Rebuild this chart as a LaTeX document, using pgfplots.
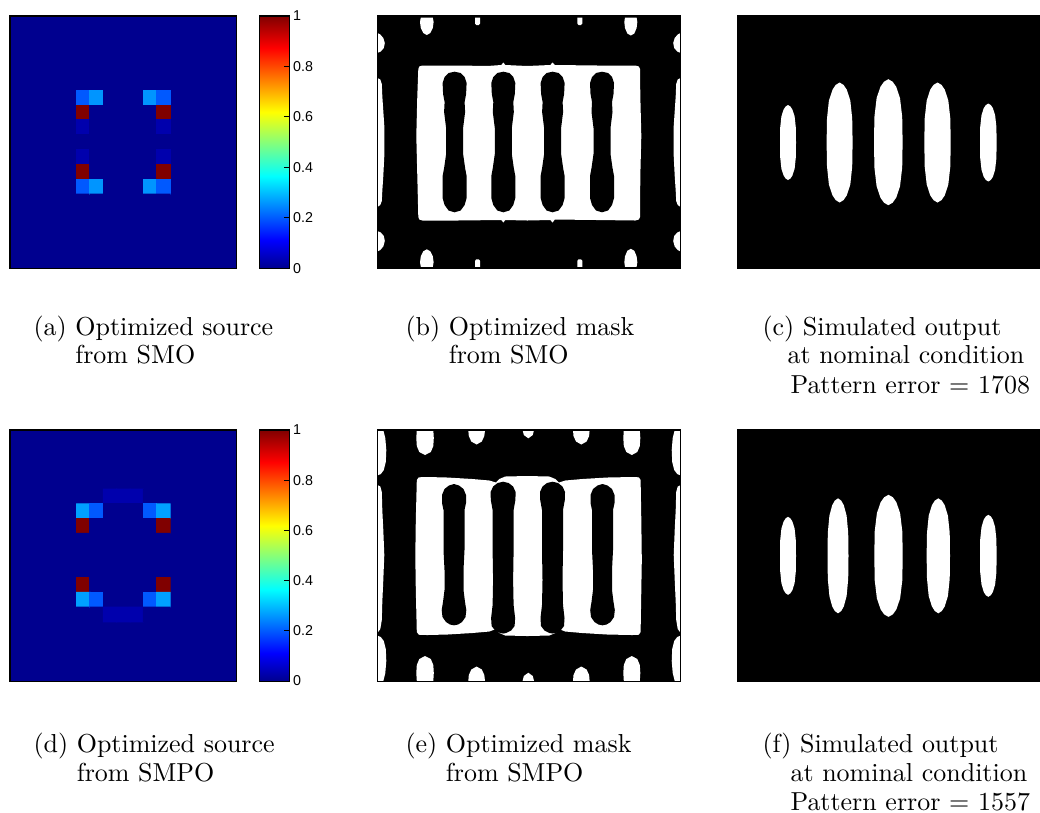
\documentclass[border=0pt]{standalone}
\usepackage{fontspec}
\newfontfamily\helv{Liberation Sans}
\usepackage{pgfplots}
\pgfplotsset{compat=1.18}
\definecolor{c0}{RGB}{0,0,143}
\pgfplotsset{
  colormap={mjet}{rgb255(0cm)=(0,0,143) rgb255(7cm)=(0,0,255) rgb255(23cm)=(0,255,255) rgb255(39cm)=(255,255,0) rgb255(55cm)=(255,0,0) rgb255(63cm)=(128,0,0)},
  img/.style={scale only axis, anchor=north west, xtick=\empty, ytick=\empty,
    y dir=reverse, axis on top, enlargelimits=false, no markers,
    axis line style={black, line width=0.4pt}},
  src/.style={img, width=87.28pt, xmin=-0.5, xmax=16.5, ymin=-0.5, ymax=16.5,
    axis background/.style={fill=c0},
    colormap name=mjet, point meta min=0, point meta max=1,
    colorbar,
    colorbar style={at={(parent axis.north east)}, anchor=north west, xshift=0.4pt,
      width=11.4pt, ytick={0,0.2,0.4,0.6,0.8,1}, yticklabels={0,0.2,0.4,0.6,0.8,1},
      ytick pos=right, yticklabel pos=right, tick align=inside, major tick length=2pt,
      tick style={black, line width=0.4pt},
      yticklabel style={font=\helv\fontsize{5.5}{6}\selectfont, inner sep=1.2pt}}},
  msk/.style={img, width=116.81pt, xmin=0, xmax=303.4, ymin=0,
    axis background/.style={fill=black}},
  out/.style={img, width=116.54pt, xmin=0, xmax=302.7, ymin=0,
    axis background/.style={fill=black}},
  wf/.style={fill=white, draw=none, forget plot},
  bf/.style={fill=black, draw=none, forget plot},
}
\begin{document}
\begin{tikzpicture}
\useasboundingbox (0pt,0pt) rectangle (400.4pt,-313.0pt);

% (a) source SMO
\begin{axis}[src, at={(3.85pt,-6.16pt)}, height=97.14pt]
\addplot[matrix plot*, mesh/cols=7, point meta=explicit] table[meta=c] {
x y c
5 4 0
6 4 0
7 4 0
8 4 0
9 4 0
10 4 0
11 4 0
5 5 0.2
6 5 0.26
7 5 0
8 5 0
9 5 0
10 5 0.26
11 5 0.2
5 6 1
6 6 0
7 6 0
8 6 0
9 6 0
10 6 0
11 6 1
5 7 0.03
6 7 0
7 7 0
8 7 0
9 7 0
10 7 0
11 7 0.03
5 8 0
6 8 0
7 8 0
8 8 0
9 8 0
10 8 0
11 8 0
5 9 0.03
6 9 0
7 9 0
8 9 0
9 9 0
10 9 0
11 9 0.03
5 10 1
6 10 0
7 10 0
8 10 0
9 10 0
10 10 0
11 10 1
5 11 0.2
6 11 0.26
7 11 0
8 11 0
9 11 0
10 11 0.26
11 11 0.2
5 12 0
6 12 0
7 12 0
8 12 0
9 12 0
10 12 0
11 12 0
};
\end{axis}

% (b) mask SMO
\begin{axis}[msk, at={(145.26pt,-6.16pt)}, height=97.14pt, ymax=252.3]
\addplot[wf] coordinates {(41,53)(42,50.5)(45,49.5)(80,49.5)(110,50)(124,49)(126,46.5)(128,49)(150,50)(173,49)(175.3,46.5)(177.5,49)(220,49.5)(258,49.5)(261.5,50.5)(262.7,53)(263,80)(264,120)(263,160)(262.7,201)(261.5,203.5)(258,204.5)(220,204)(177.5,203.5)(175.3,206.5)(173,204)(150,204.5)(128,204)(126,206.5)(124,204)(80,204.5)(45,204.5)(42,203.5)(41,201)(40,160)(39,120)(40,80)};
\addplot[bf] coordinates {(77.3,55.7)(83.3,57)(87.3,61)(89.3,67)(88.8,78)(87.3,86)(87.8,96)(85.8,112)(85.8,138)(87.8,152)(89.3,160)(89.3,182)(87.3,189)(83.3,194.5)(77.3,196.3)(71.3,194.5)(67.3,189)(65.3,182)(65.3,160)(66.8,152)(68.8,138)(68.8,112)(66.8,96)(67.3,86)(65.8,78)(65.3,67)(67.3,61)(71.3,57)};
\addplot[bf] coordinates {(126,55.7)(132,57)(136,61)(138,67)(137.5,78)(136,86)(136.5,96)(134.5,112)(134.5,138)(136.5,152)(138,160)(138,182)(136,189)(132,194.5)(126,196.3)(120,194.5)(116,189)(114,182)(114,160)(115.5,152)(117.5,138)(117.5,112)(115.5,96)(116,86)(114.5,78)(114,67)(116,61)(120,57)};
\addplot[bf] coordinates {(175.3,55.7)(181.3,57)(185.3,61)(187.3,67)(186.8,78)(185.3,86)(185.8,96)(183.8,112)(183.8,138)(185.8,152)(187.3,160)(187.3,182)(185.3,189)(181.3,194.5)(175.3,196.3)(169.3,194.5)(165.3,189)(163.3,182)(163.3,160)(164.8,152)(166.8,138)(166.8,112)(164.8,96)(165.3,86)(163.8,78)(163.3,67)(165.3,61)(169.3,57)};
\addplot[bf] coordinates {(224.7,55.7)(230.7,57)(234.7,61)(236.7,67)(236.2,78)(234.7,86)(235.2,96)(233.2,112)(233.2,138)(235.2,152)(236.7,160)(236.7,182)(234.7,189)(230.7,194.5)(224.7,196.3)(218.7,194.5)(214.7,189)(212.7,182)(212.7,160)(214.2,152)(216.2,138)(216.2,112)(214.2,96)(214.7,86)(213.2,78)(212.7,67)(214.7,61)(218.7,57)};
% edge features
\addplot[wf] coordinates {(0,17)(3,18.5)(6,22)(7.5,27)(6.5,32)(3.5,35.5)(0,37)};
\addplot[wf] coordinates {(0,62)(3,63.5)(4.5,68)(5,80)(6,95)(7,110)(7,140)(6,160)(5,175)(4.5,185)(3,189)(0,191)};
\addplot[wf] coordinates {(0,215)(3.5,216.5)(6.5,220)(7.5,225)(6,230.5)(3,234)(0,235.5)};
\addplot[wf] coordinates {(303.4,17)(300.4,18.5)(297.4,22)(295.9,27)(296.9,32)(299.9,35.5)(303.4,37)};
\addplot[wf] coordinates {(303.4,62)(300.4,63.5)(298.9,68)(298.4,80)(297.4,95)(296.4,110)(296.4,140)(297.4,160)(298.4,175)(298.9,185)(300.4,189)(303.4,191)};
\addplot[wf] coordinates {(303.4,215)(299.9,216.5)(296.9,220)(295.9,225)(297.4,230.5)(300.4,234)(303.4,235.5)};
\addplot[wf] coordinates {(43.5,1.5)(55.5,1.5)(56.3,6)(55.5,12)(53,17)(49.5,19)(46,17)(43.5,12)(42.7,6)};
\addplot[wf] coordinates {(97.7,1.5)(102.7,1.5)(102.7,7.5)(101.5,9)(99,9)(97.7,7.5)};
\addplot[wf] coordinates {(200,1.5)(205,1.5)(205,7.5)(203.7,9)(201.3,9)(200,7.5)};
\addplot[wf] coordinates {(247.7,1.5)(259.3,1.5)(260,6)(259.3,12)(257,17.5)(253.5,19.5)(250,17.5)(247.7,12)(247,6)};
\addplot[wf] coordinates {(43.5,250.8)(55.5,250.8)(56.3,246.3)(55.5,240.3)(53,235.3)(49.5,233.3)(46,235.3)(43.5,240.3)(42.7,246.3)};
\addplot[wf] coordinates {(97.7,250.8)(102.7,250.8)(102.7,244.8)(101.5,243.3)(99,243.3)(97.7,244.8)};
\addplot[wf] coordinates {(200,250.8)(205,250.8)(205,244.8)(203.7,243.3)(201.3,243.3)(200,244.8)};
\addplot[wf] coordinates {(247.7,250.8)(259.3,250.8)(260,246.3)(259.3,240.3)(257,234.8)(253.5,232.8)(250,234.8)(247.7,240.3)(247,246.3)};
\end{axis}

% (c) output SMO
\begin{axis}[out, at={(283.86pt,-6.16pt)}, height=97.14pt, ymax=252.3]
\addplot[wf] coordinates {(50.7,89)(53.1,90.5)(55.1,93.5)(57.3,100.3)(58.5,111.5)(58.7,126.5)(58.5,141.5)(57.3,152.8)(55.1,159.5)(53.1,162.5)(50.7,164)(48.3,162.5)(46.3,159.5)(44.1,152.8)(42.9,141.5)(42.7,126.5)(42.9,111.5)(44.1,100.3)(46.3,93.5)(48.3,90.5)};
\addplot[wf] coordinates {(102.3,66.5)(106.2,68.9)(109.5,73.7)(113,84.5)(114.9,102.5)(115.3,126.5)(114.9,150.5)(113,168.5)(109.5,179.3)(106.2,184.1)(102.3,186.5)(98.4,184.1)(95.2,179.3)(91.6,168.5)(89.7,150.5)(89.3,126.5)(89.7,102.5)(91.6,84.5)(95.2,73.7)(98.4,68.9)};
\addplot[wf] coordinates {(151,63.2)(155.3,65.7)(158.9,70.8)(162.7,82.1)(164.9,101)(165.3,126.2)(164.9,151.4)(162.7,170.3)(158.9,181.6)(155.3,186.7)(151,189.2)(146.7,186.7)(143.1,181.6)(139.3,170.3)(137.1,151.4)(136.7,126.2)(137.1,101)(139.3,82.1)(143.1,70.8)(146.7,65.7)};
\addplot[wf] coordinates {(200.2,66.5)(204.2,68.9)(207.5,73.7)(211,84.5)(213,102.5)(213.4,126.5)(213,150.5)(211,168.5)(207.5,179.3)(204.2,184.1)(200.2,186.5)(196.2,184.1)(192.9,179.3)(189.4,168.5)(187.4,150.5)(187,126.5)(187.4,102.5)(189.4,84.5)(192.9,73.7)(196.2,68.9)};
\addplot[wf] coordinates {(251,87.5)(253.5,89.1)(255.6,92.2)(257.8,99.2)(259.1,110.9)(259.3,126.5)(259.1,142.1)(257.8,153.8)(255.6,160.8)(253.5,163.9)(251,165.5)(248.5,163.9)(246.4,160.8)(244.2,153.8)(242.9,142.1)(242.7,126.5)(242.9,110.9)(244.2,99.2)(246.4,92.2)(248.5,89.1)};
\end{axis}

% (d) source SMPO
\begin{axis}[src, at={(3.85pt,-165.55pt)}, height=96.64pt]
\addplot[matrix plot*, mesh/cols=7, point meta=explicit] table[meta=c] {
x y c
5 4 0
6 4 0
7 4 0.03
8 4 0.03
9 4 0.03
10 4 0
11 4 0
5 5 0.27
6 5 0.2
7 5 0
8 5 0
9 5 0
10 5 0.2
11 5 0.27
5 6 1
6 6 0
7 6 0
8 6 0
9 6 0
10 6 0
11 6 1
5 7 0
6 7 0
7 7 0
8 7 0
9 7 0
10 7 0
11 7 0
5 8 0
6 8 0
7 8 0
8 8 0
9 8 0
10 8 0
11 8 0
5 9 0
6 9 0
7 9 0
8 9 0
9 9 0
10 9 0
11 9 0
5 10 1
6 10 0
7 10 0
8 10 0
9 10 0
10 10 0
11 10 1
5 11 0.27
6 11 0.2
7 11 0
8 11 0
9 11 0
10 11 0.2
11 11 0.27
5 12 0
6 12 0
7 12 0.03
8 12 0.03
9 12 0.03
10 12 0
11 12 0
};
\end{axis}

% (e) mask SMPO
\begin{axis}[msk, at={(145.26pt,-165.55pt)}, height=96.64pt, ymax=251]
\addplot[wf] coordinates {(39.5,50)(41.5,47.3)(50,47)(70,47.5)(95,49)(112,50.5)(118.7,52.5)(122,49)(128,46.5)(150,46)(172,46.5)(178,49)(181.7,52.5)(188,50.5)(205,49)(230,47.5)(255,47)(261.5,47.3)(263.3,50)(264,90)(264.5,130)(263.3,202)(261.5,204.7)(255,205)(230,204.5)(205,203)(188,201.5)(181.7,199)(178,203)(172,205.5)(150,206)(128,205.5)(122,203)(118.7,199)(112,201.5)(95,203)(70,204.5)(50,205)(41.5,204.7)(39.5,202)(38.5,160)(38,126)(38.5,90)};
\addplot[bf] coordinates {(76.7,54)(81.7,55.5)(86.2,59)(88.7,65)(88.7,73)(87.2,80)(87.2,120)(86.2,140)(86.2,160)(87.7,172)(89,180)(88.2,187)(84.7,192)(80.7,194.5)(76.7,195.3)(72.7,194.5)(68.7,192)(65.2,187)(64.4,180)(65.7,172)(67.2,160)(67.2,140)(66.2,120)(66.2,80)(64.7,73)(64.7,65)(67.2,59)(71.7,55.5)};
\addplot[bf] coordinates {(125.8,51.7)(131.3,53)(135.8,56.5)(138.3,62)(138.1,70)(136.3,80)(136.3,120)(135.8,150)(136.3,175)(137.8,188)(137.3,196)(133.8,200.5)(128.8,203)(125.8,203.5)(122.8,203)(117.8,200.5)(114.3,196)(113.8,188)(115.3,175)(115.8,150)(115.3,120)(115.3,80)(113.5,70)(113.3,62)(115.8,56.5)(120.3,53)};
\addplot[bf] coordinates {(175.2,51.7)(180.7,53)(185.2,56.5)(187.7,62)(187.5,70)(185.7,80)(185.7,120)(185.2,150)(185.7,175)(187.2,188)(186.7,196)(183.2,200.5)(178.2,203)(175.2,203.5)(172.2,203)(167.2,200.5)(163.7,196)(163.2,188)(164.7,175)(165.2,150)(164.7,120)(164.7,80)(162.9,70)(162.7,62)(165.2,56.5)(169.7,53)};
\addplot[bf] coordinates {(225.2,54)(230.2,55.5)(234.7,59)(237.2,65)(237.2,73)(235.7,80)(235.7,120)(234.7,140)(234.7,160)(236.2,172)(237.5,180)(236.7,187)(233.2,192)(229.2,194.5)(225.2,195.3)(221.2,194.5)(217.2,192)(213.7,187)(212.9,180)(214.2,172)(215.7,160)(215.7,140)(214.7,120)(214.7,80)(213.2,73)(213.2,65)(215.7,59)(220.2,55.5)};
% edge features
\addplot[wf] coordinates {(0,0)(6,0)(8,8)(9,20)(8.5,32)(6.5,40)(3.5,44)(0,45.5)};
\addplot[wf] coordinates {(0,55)(3,56.5)(4.5,62)(5,80)(6,100)(7,125)(6,150)(5,172)(4.5,190)(3,199)(0,203)};
\addplot[wf] coordinates {(0,205.5)(3.5,207)(6.5,211)(8.5,219)(9,231)(8,243)(6,251)(0,251)};
\addplot[wf] coordinates {(303.4,0)(297.4,0)(295.4,8)(294.4,20)(294.9,32)(296.9,40)(299.9,44)(303.4,45.5)};
\addplot[wf] coordinates {(303.4,55)(300.4,56.5)(298.9,62)(298.4,80)(297.4,100)(296.4,125)(297.4,150)(298.4,172)(298.9,190)(300.4,199)(303.4,203)};
\addplot[wf] coordinates {(303.4,205.5)(299.9,207)(296.9,211)(294.9,219)(294.4,231)(295.4,243)(297.4,251)(303.4,251)};
\addplot[wf] coordinates {(39.5,0)(56,0)(56.5,8)(56,16)(53.5,22)(47.7,25)(42,22)(39.5,16)(39,8)};
\addplot[wf] coordinates {(91,0)(107.7,0)(107,6)(104.5,11.5)(99.3,14.5)(94,11.5)(91.5,6)};
\addplot[wf] coordinates {(145.3,0)(156.7,0)(155.5,5)(151,8.3)(146.5,5)};
\addplot[wf] coordinates {(195.7,0)(212.3,0)(211.8,6)(209.3,11.5)(204,14.5)(198.7,11.5)(196.2,6)};
\addplot[wf] coordinates {(246.5,0)(262.5,0)(263,8)(262.5,16)(260,22)(254.5,25)(249,22)(246.5,16)(246,8)};
\addplot[wf] coordinates {(39.5,251)(56,251)(56.5,243)(56,235)(53.5,229)(47.7,226)(42,229)(39.5,235)(39,243)};
\addplot[wf] coordinates {(91,251)(107.7,251)(107,245)(104.5,239.5)(99.3,236.5)(94,239.5)(91.5,245)};
\addplot[wf] coordinates {(145.3,251)(156.7,251)(155.5,246)(151,242.7)(146.5,246)};
\addplot[wf] coordinates {(195.7,251)(212.3,251)(211.8,245)(209.3,239.5)(204,236.5)(198.7,239.5)(196.2,245)};
\addplot[wf] coordinates {(246.5,251)(262.5,251)(263,243)(262.5,235)(260,229)(254.5,226)(249,229)(246.5,235)(246,243)};
\end{axis}

% (f) output SMPO
\begin{axis}[out, at={(283.86pt,-165.55pt)}, height=96.64pt, ymax=251]
\addplot[wf] coordinates {(50.7,86.8)(53.1,88.4)(55.1,91.5)(57.3,98.5)(58.5,110.2)(58.7,125.8)(58.5,141.4)(57.3,153.1)(55.1,160.1)(53.1,163.2)(50.7,164.8)(48.3,163.2)(46.3,160.1)(44.1,153.1)(42.9,141.4)(42.7,125.8)(42.9,110.2)(44.1,98.5)(46.3,91.5)(48.3,88.4)};
\addplot[wf] coordinates {(100.7,68.3)(103.9,70.6)(106.5,75.2)(109.3,85.6)(110.9,102.8)(111.2,125.8)(110.9,148.8)(109.3,166.1)(106.5,176.4)(103.9,181)(100.7,183.3)(97.5,181)(94.9,176.4)(92.1,166.1)(90.5,148.8)(90.2,125.8)(90.5,102.8)(92.1,85.6)(94.9,75.2)(97.5,70.6)};
\addplot[wf] coordinates {(151.2,64.8)(155.5,67.2)(159,72.1)(162.8,83.1)(165,101.4)(165.4,125.8)(165,150.2)(162.8,168.5)(159,179.5)(155.5,184.4)(151.2,186.8)(146.9,184.4)(143.4,179.5)(139.6,168.5)(137.4,150.2)(137,125.8)(137.4,101.4)(139.6,83.1)(143.4,72.1)(146.9,67.2)};
\addplot[wf] coordinates {(201,68.3)(204.5,70.6)(207.4,75.2)(210.6,85.6)(212.4,102.8)(212.7,125.8)(212.4,148.8)(210.6,166.1)(207.4,176.4)(204.5,181)(201,183.3)(197.5,181)(194.6,176.4)(191.4,166.1)(189.7,148.8)(189.3,125.8)(189.7,102.8)(191.4,85.6)(194.6,75.2)(197.5,70.6)};
\addplot[wf] coordinates {(251,84.8)(253.5,86.4)(255.6,89.7)(257.8,97.1)(259.1,109.4)(259.3,125.8)(259.1,142.2)(257.8,154.5)(255.6,161.9)(253.5,165.2)(251,166.8)(248.5,165.2)(246.4,161.9)(244.2,154.5)(242.9,142.2)(242.7,125.8)(242.9,109.4)(244.2,97.1)(246.4,89.7)(248.5,86.4)};
\end{axis}

% captions
\begin{scope}[x=0.385pt, y=-0.385pt, every node/.style={anchor=base west, inner sep=0pt}]
\node at (33,335) {(a) Optimized source};
\node at (33,364) {\phantom{(a)} from SMO};
\node at (405,335) {(b) Optimized mask};
\node at (405,364) {\phantom{(b)} from SMO};
\node at (762,335) {(c) Simulated output};
\node at (787,364) {at nominal condition};
\node at (790,393) {Pattern error $=$ 1708};
\node at (33,752) {(d) Optimized source};
\node at (33,781) {\phantom{(d)} from SMPO};
\node at (405,752) {(e) Optimized mask};
\node at (405,781) {\phantom{(e)} from SMPO};
\node at (762,752) {(f) Simulated output};
\node at (790,781) {at nominal condition};
\node at (790,810) {Pattern error $=$ 1557};
\end{scope}
\end{tikzpicture}
\end{document}
